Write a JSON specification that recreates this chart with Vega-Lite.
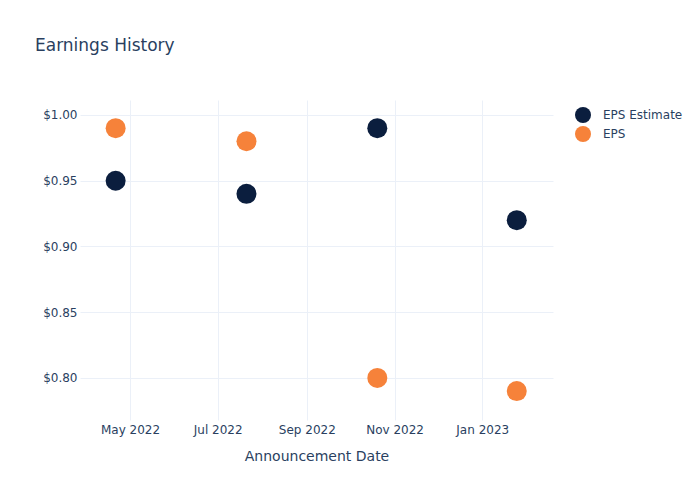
{
  "$schema": "https://vega.github.io/schema/vega-lite/v6.json",
  "autosize": "none",
  "width": 473,
  "height": 320,
  "padding": {"left": 80, "top": 100, "right": 147, "bottom": 80},
  "background": "white",
  "config": {
    "font": "DejaVu Sans",
    "view": {"stroke": null},
    "axis": {
      "domain": false,
      "ticks": false,
      "tickSize": 0,
      "gridColor": "#ebf0f8",
      "gridWidth": 1,
      "labelColor": "#2a3f5f",
      "labelFontSize": 12,
      "titleColor": "#2a3f5f",
      "titleFontWeight": "normal",
      "titleFontSize": 14
    }
  },
  "title": {
    "text": "Earnings History",
    "anchor": "start",
    "frame": "group",
    "dx": -45,
    "offset": 32,
    "baseline": "alphabetic",
    "fontSize": 17,
    "fontWeight": "normal",
    "color": "#2a3f5f"
  },
  "data": {
    "values": [
      {"date": "2022-04-21", "series": "EPS Estimate", "value": 0.95},
      {"date": "2022-07-21", "series": "EPS Estimate", "value": 0.94},
      {"date": "2022-10-20", "series": "EPS Estimate", "value": 0.99},
      {"date": "2023-01-25", "series": "EPS Estimate", "value": 0.92},
      {"date": "2022-04-21", "series": "EPS", "value": 0.99},
      {"date": "2022-07-21", "series": "EPS", "value": 0.98},
      {"date": "2022-10-20", "series": "EPS", "value": 0.80},
      {"date": "2023-01-25", "series": "EPS", "value": 0.79}
    ]
  },
  "mark": {"type": "circle", "size": 400, "opacity": 1},
  "encoding": {
    "x": {
      "field": "date",
      "type": "temporal",
      "title": "Announcement Date",
      "scale": {
        "type": "utc",
        "domain": [
          {"year": 2022, "month": 3, "date": 27, "hours": 5, "utc": true},
          {"year": 2023, "month": 2, "date": 19, "hours": 5, "utc": true}
        ]
      },
      "axis": {
        "values": [
          {"year": 2022, "month": 5, "date": 1, "utc": true},
          {"year": 2022, "month": 7, "date": 1, "utc": true},
          {"year": 2022, "month": 9, "date": 1, "utc": true},
          {"year": 2022, "month": 11, "date": 1, "utc": true},
          {"year": 2023, "month": 1, "date": 1, "utc": true}
        ],
        "labelExpr": "utcFormat(datum.value, '%b %Y')",
        "labelPadding": 4,
        "titlePadding": 14,
        "labelFlush": false,
        "labelOverlap": false
      }
    },
    "y": {
      "field": "value",
      "type": "quantitative",
      "title": null,
      "scale": {"domain": [0.768, 1.0114], "nice": false, "zero": false},
      "axis": {
        "values": [0.8, 0.85, 0.9, 0.95, 1.0],
        "format": "$.2f",
        "labelPadding": 3
      }
    },
    "color": {
      "field": "series",
      "type": "nominal",
      "scale": {"domain": ["EPS Estimate", "EPS"], "range": ["#0b1e3e", "#f6823a"]},
      "legend": {
        "title": null,
        "orient": "none",
        "legendX": 495,
        "legendY": 7,
        "symbolType": "circle",
        "symbolSize": 256,
        "symbolOpacity": 1,
        "symbolStrokeWidth": 0,
        "rowPadding": 3,
        "labelOffset": 12,
        "labelFontSize": 12,
        "labelColor": "#2a3f5f",
        "padding": 0
      }
    },
    "order": {"field": "series", "sort": "descending"}
  }
}
